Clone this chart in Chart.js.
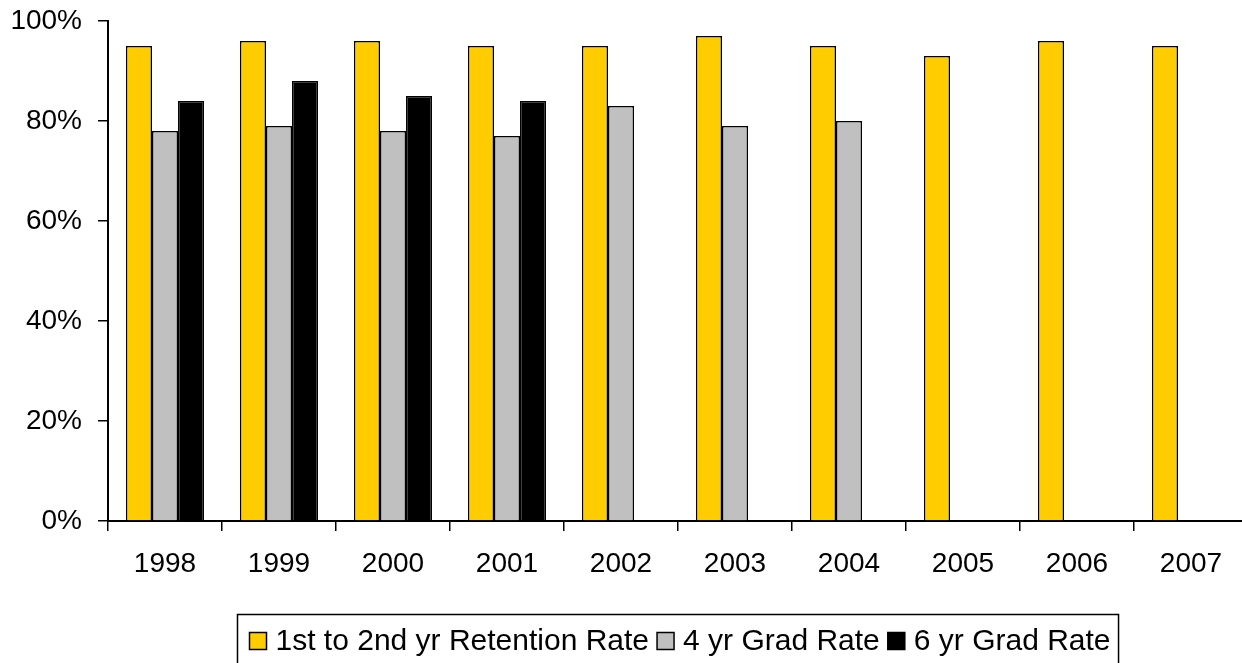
<!DOCTYPE html>
<html>
<head>
<meta charset="utf-8">
<script src="https://cdn.jsdelivr.net/npm/chart.js@4"></script>
<style>
html,body{margin:0;padding:0;overflow:hidden;background:#fff;}
canvas{display:block;}
</style>
</head>
<body>
<canvas id="c" width="1250" height="663"></canvas>
<script>
const categories = ['1998','1999','2000','2001','2002','2003','2004','2005','2006','2007'];
const retention = [95, 96, 96, 95, 95, 97, 95, 93, 96, 95];
const grad4 = [78, 79, 78, 77, 83, 79, 80, null, null, null];
const grad6 = [84, 88, 85, 84, null, null, null, null, null, null];
const yTicks = [0, 20, 40, 60, 80, 100];
const seriesNames = ['1st to 2nd yr Retention Rate', '4 yr Grad Rate', '6 yr Grad Rate'];
const colors = ['#FFCC00', '#C0C0C0', '#000000'];

const FONT = '"Liberation Sans", Arial, sans-serif';

const legendPlugin = {
  id: 'customLegend',
  afterDraw(chart) {
    const ctx = chart.ctx;
    ctx.save();
    const fs = 30;
    ctx.font = fs + 'px ' + FONT;
    const sq = 17, gapSqText = 9, gapItem = 8, padL = 12, padR = 8;
    let total = padL;
    const items = chart.data.datasets.map(ds => {
      const w = ctx.measureText(ds.label).width;
      return {label: ds.label, color: ds.backgroundColor, w};
    });
    items.forEach((it, i) => {
      total += sq + gapSqText + it.w + (i < items.length - 1 ? gapItem : 0);
    });
    total += padR;
    const cx = 677.5;
    const left = Math.round(cx - total / 2) + 0.5;
    const top = 614.5;
    ctx.lineWidth = 1.5;
    ctx.strokeStyle = '#000';
    ctx.strokeRect(left, top, total, 80);
    let x = left + padL;
    const cy = 641;
    ctx.textBaseline = 'middle';
    items.forEach(it => {
      ctx.fillStyle = it.color;
      ctx.fillRect(x, cy - sq / 2, sq, sq);
      ctx.lineWidth = 1.5;
      ctx.strokeStyle = '#000';
      ctx.strokeRect(x, cy - sq / 2, sq, sq);
      x += sq + gapSqText;
      ctx.fillStyle = '#000';
      ctx.fillText(it.label, x, cy + 1);
      x += it.w + gapItem;
    });
    ctx.restore();
  }
};

new Chart(document.getElementById('c'), {
  type: 'bar',
  data: {
    labels: categories,
    datasets: [
      {label: seriesNames[0], data: retention, backgroundColor: colors[0], borderColor: '#000', borderWidth: 1.5},
      {label: seriesNames[1], data: grad4, backgroundColor: colors[1], borderColor: '#000', borderWidth: 1.5},
      {label: seriesNames[2], data: grad6, backgroundColor: colors[2], borderColor: '#000', borderWidth: 1.5}
    ]
  },
  options: {
    responsive: false,
    animation: false,
    devicePixelRatio: 1,
    layout: {padding: {top: 21, right: 2, left: 0, bottom: 0}},
    datasets: {bar: {categoryPercentage: 0.685, barPercentage: 1.0}},
    plugins: {legend: {display: false}, tooltip: {enabled: false}},
    scales: {
      x: {
        offset: true,
        grid: {display: true, drawOnChartArea: false, drawTicks: true, tickLength: 10, color: '#000', lineWidth: 1.5, offset: true},
        border: {display: true, color: '#000', width: 2},
        ticks: {color: '#000', font: {family: FONT, size: 28}, padding: 16, maxRotation: 0},
        afterFit(scale) { scale.height = 142; scale.paddingLeft = 0; scale.paddingRight = 0; }
      },
      y: {
        min: 0, max: 100,
        afterBuildTicks(scale) { scale.ticks = yTicks.map(v => ({value: v})); },
        grid: {display: true, drawOnChartArea: false, drawTicks: true, tickLength: 10, color: '#000', lineWidth: 1.5},
        border: {display: true, color: '#000', width: 2},
        ticks: {color: '#000', font: {family: FONT, size: 28}, padding: 16, callback: v => v + '%'},
        afterFit(scale) { scale.width = 108; scale.paddingTop = 0; scale.paddingBottom = 0; }
      }
    }
  },
  plugins: [legendPlugin]
});
</script>
</body>
</html>
